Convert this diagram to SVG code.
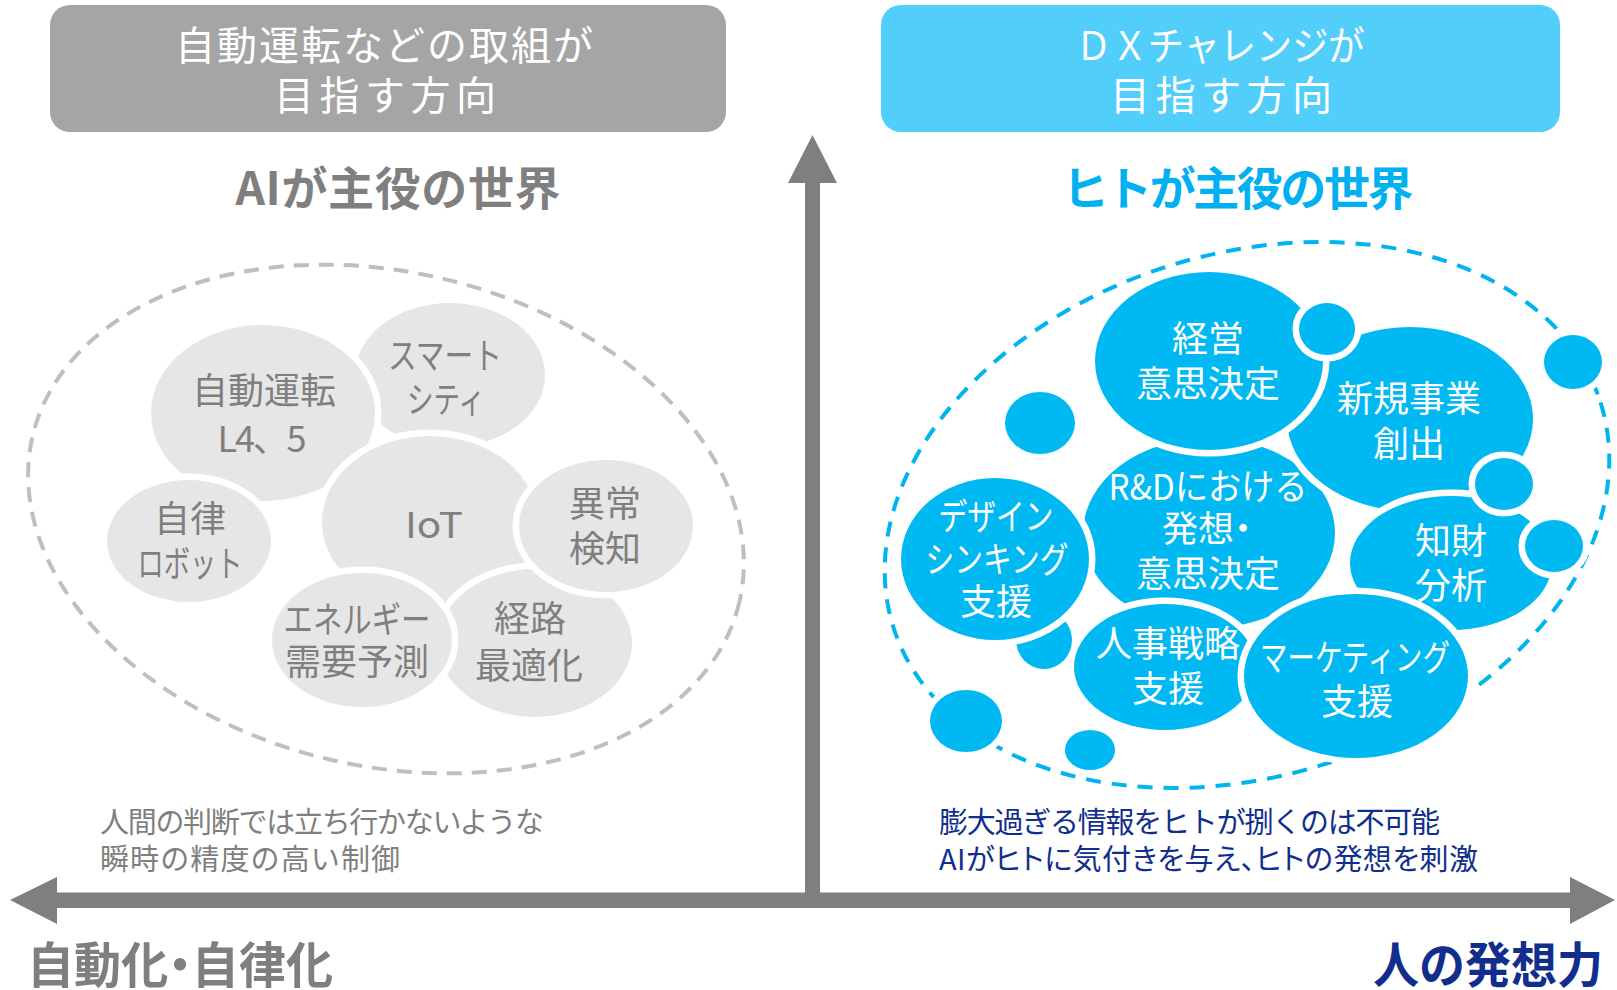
<svg xmlns="http://www.w3.org/2000/svg" width="1617" height="990" viewBox="0 0 1617 990">
<style>
text { font-family: "Noto Sans CJK JP", "Noto Sans", sans-serif; }
.hdr { font-size: 40px; fill: #ffffff; text-anchor: middle; }
.ttl { font-size: 46px; font-weight: 700; text-anchor: middle; }
.g { fill: #E6E6E6; stroke: #ffffff; stroke-width: 13; paint-order: stroke; }
.b { fill: #00B9F2; stroke: #ffffff; stroke-width: 13; paint-order: stroke; }
.gt { font-size: 36px; fill: #7F7F7F; text-anchor: middle; }
.bt { font-size: 36px; fill: #ffffff; text-anchor: middle; }
.note { font-size: 29px; }
.axl { font-size: 49px; font-weight: 700; }
.pa { font-feature-settings: "palt"; }
.axis { fill: #7F7F7F; }
</style>
<rect width="1617" height="990" fill="#ffffff"/>

<g id="header-left">
  <rect x="50" y="5" width="676" height="127" rx="20" fill="#A5A5A5"/>
  <text class="hdr" x="384" y="60" textLength="418">自動運転などの取組が</text>
  <text class="hdr" x="385" y="110" textLength="222">目指す方向</text>
</g>
<g id="header-right">
  <rect x="881" y="5" width="679" height="127" rx="20" fill="#51CEF9"/>
  <text class="hdr" x="1220" y="60" textLength="289" lengthAdjust="spacingAndGlyphs">ＤＸチャレンジが</text>
  <text class="hdr" x="1221" y="110" textLength="222">目指す方向</text>
</g>

<g id="title-left"><text class="ttl" x="398" y="205" fill="#7F7F7F" textLength="325">AIが主役の世界</text></g>
<g id="title-right"><text class="ttl" x="1238" y="205" fill="#00B0F0" textLength="351">ヒトが主役の世界</text></g>

<g id="axes">
  <rect class="axis" x="805" y="180" width="15" height="728"/>
  <polygon class="axis" points="788,183 812.5,135 837,183"/>
  <rect class="axis" x="55" y="892.5" width="1517" height="15.5"/>
  <polygon class="axis" points="57,877 10,900 57,924"/>
  <polygon class="axis" points="1570,877 1615,900 1570,924"/>
</g>

<g id="cluster-left">
  <ellipse cx="386" cy="519" rx="363" ry="247" transform="rotate(13.2 386 519)" fill="none" stroke="#BFBFBF" stroke-width="4" stroke-dasharray="15 10"/>
  <g id="node-smartcity">
    <ellipse class="g" cx="450" cy="375" rx="95" ry="72"/>
    <text class="gt" x="445" y="369" textLength="114" lengthAdjust="spacingAndGlyphs">スマート</text>
    <text class="gt" x="446" y="413" textLength="78" lengthAdjust="spacingAndGlyphs">シティ</text>
  </g>
  <g id="node-autodrive">
    <ellipse class="g" cx="263" cy="413" rx="112" ry="88"/>
    <text class="gt" x="264" y="404">自動運転</text>
    <text class="gt" x="262" y="452" textLength="89">L4、5</text>
  </g>
  <g id="node-iot">
    <ellipse class="g" cx="430" cy="522" rx="108" ry="86"/>
    <text class="gt" x="434" y="538" font-size="39" textLength="58" lengthAdjust="spacingAndGlyphs">IoT</text>
  </g>
  <g id="node-robot">
    <ellipse class="g" cx="189" cy="541" rx="82" ry="61"/>
    <text class="gt" x="190" y="532">自律</text>
    <text class="gt" x="190" y="577" textLength="105" lengthAdjust="spacingAndGlyphs">ロボット</text>
  </g>
  <g id="node-route">
    <ellipse class="g" cx="535" cy="643" rx="97" ry="74"/>
    <text class="gt" x="530" y="632">経路</text>
    <text class="gt" x="529" y="679">最適化</text>
  </g>
  <g id="node-anomaly">
    <ellipse class="g" cx="606" cy="526" rx="87" ry="66"/>
    <text class="gt" x="605" y="517">異常</text>
    <text class="gt" x="605" y="562">検知</text>
  </g>
  <g id="node-energy">
    <ellipse class="g" cx="362" cy="640" rx="90" ry="67"/>
    <text class="gt" x="357" y="633" textLength="147" lengthAdjust="spacingAndGlyphs">エネルギー</text>
    <text class="gt" x="357" y="675">需要予測</text>
  </g>
</g>

<g id="cluster-right">
  <ellipse cx="1247" cy="515" rx="371" ry="261" transform="rotate(-17.65 1247 515)" fill="none" stroke="#00B4F0" stroke-width="4" stroke-dasharray="15 11"/>
  <g id="dot-h"><ellipse class="b" cx="1044" cy="640" rx="28" ry="29"/></g>
  <g id="node-rnd">
    <ellipse class="b" cx="1209" cy="533" rx="126" ry="95"/>
    <text class="bt" x="1208" y="500" textLength="199" lengthAdjust="spacingAndGlyphs">R&amp;Dにおける</text>
    <text class="bt pa" x="1162" y="542" style="text-anchor:start">発想・</text>
    <text class="bt" x="1208" y="587">意思決定</text>
  </g>
  <g id="node-newbiz">
    <ellipse class="b" cx="1410" cy="419" rx="123" ry="92"/>
    <text class="bt" x="1409" y="412">新規事業</text>
    <text class="bt" x="1409" y="457">創出</text>
  </g>
  <g id="node-management">
    <ellipse class="b" cx="1209" cy="361" rx="114" ry="89"/>
    <text class="bt" x="1208" y="352">経営</text>
    <text class="bt" x="1208" y="397">意思決定</text>
  </g>
  <g id="node-ip">
    <ellipse class="b" cx="1451" cy="563" rx="101" ry="67"/>
    <text class="bt" x="1451" y="554">知財</text>
    <text class="bt" x="1451" y="599">分析</text>
  </g>
  <g id="node-design">
    <ellipse class="b" cx="995" cy="559" rx="94" ry="81"/>
    <text class="bt" x="996" y="530" textLength="115" lengthAdjust="spacingAndGlyphs">デザイン</text>
    <text class="bt" x="997" y="573" textLength="143" lengthAdjust="spacingAndGlyphs">シンキング</text>
    <text class="bt" x="996" y="615">支援</text>
  </g>
  <g id="node-hr">
    <ellipse class="b" cx="1165" cy="667" rx="91" ry="63"/>
    <text class="bt" x="1168" y="657">人事戦略</text>
    <text class="bt" x="1168" y="702">支援</text>
  </g>
  <g id="node-marketing">
    <ellipse class="b" cx="1356" cy="676" rx="112" ry="82"/>
    <text class="bt" x="1355" y="671" textLength="190" lengthAdjust="spacingAndGlyphs">マーケティング</text>
    <text class="bt" x="1357" y="715">支援</text>
  </g>
  <g id="dot-b"><ellipse class="b" cx="1327" cy="329" rx="28" ry="26"/></g>
  <g id="dot-l"><ellipse class="b" cx="1504" cy="484" rx="29" ry="26"/></g>
  <g id="dot-m"><ellipse class="b" cx="1554" cy="546" rx="29" ry="26"/></g>
  <g id="dot-d"><ellipse class="b" cx="1573" cy="362" rx="29" ry="27"/></g>
  <g id="dot-e"><ellipse class="b" cx="1040" cy="423" rx="35" ry="31"/></g>
  <g id="dot-n"><ellipse class="b" cx="966" cy="721" rx="36" ry="31"/></g>
  <g id="dot-o"><ellipse class="b" cx="1090" cy="750" rx="25" ry="20"/></g>
</g>

<g id="note-left" fill="#7F7F7F">
  <text class="note" x="100" y="833" textLength="444">人間の判断では立ち行かないような</text>
  <text class="note" x="100" y="870" textLength="300">瞬時の精度の高い制御</text>
</g>
<g id="note-right" fill="#112E8C">
  <text class="note" x="939" y="833" textLength="501">膨大過ぎる情報をヒトが捌くのは不可能</text>
  <text class="note pa" x="939" y="870" textLength="539">AIがヒトに気付きを与え、ヒトの発想を刺激</text>
</g>

<g id="axis-label-left"><text class="axl pa" x="27" y="983" fill="#7F7F7F" textLength="306" lengthAdjust="spacingAndGlyphs">自動化・自律化</text></g>
<g id="axis-label-right"><text class="axl" x="1373" y="983" fill="#112E8C" textLength="230" lengthAdjust="spacingAndGlyphs">人の発想力</text></g>
</svg>
